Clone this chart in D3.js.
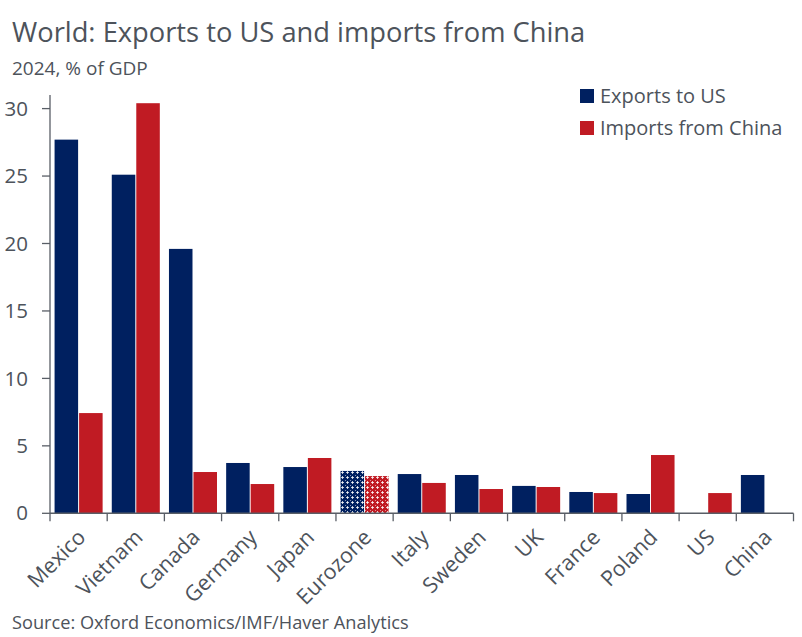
<!DOCTYPE html>
<html><head><meta charset="utf-8">
<script src="https://cdn.jsdelivr.net/npm/d3@7"></script>
<style>
body{margin:0;background:#fff;}
svg text{font-family:"Open Sans","Noto Sans",sans-serif;fill:#4d535b;}
</style></head>
<body><svg id="c" width="802" height="637"></svg>
<script>
const categories = ["Mexico","Vietnam","Canada","Germany","Japan","Eurozone","Italy","Sweden","UK","France","Poland","US","China"];
const exportsToUS = [27.7,25.1,19.6,3.73,3.43,3.14,2.91,2.84,2.03,1.58,1.43,null,2.84];
const importsFromChina = [7.43,30.4,3.06,2.17,4.10,2.76,2.25,1.80,1.95,1.50,4.32,1.50,null];
const seriesNames = ["Exports to US","Imports from China"];
const yTicks = [0,5,10,15,20,25,30];

const navy = "#002060", red = "#c01b23";
const svg = d3.select("#c");
const defs = svg.append("defs");
function pat(id, col){
  const p = defs.append("pattern").attr("id",id).attr("patternUnits","userSpaceOnUse").attr("width",5).attr("height",5);
  p.append("rect").attr("width",5).attr("height",5).attr("fill",col);
  p.append("rect").attr("x",1).attr("y",2).attr("width",3).attr("height",1).attr("fill","#fff").attr("opacity",0.75);
  p.append("rect").attr("x",2).attr("y",1).attr("width",1).attr("height",3).attr("fill","#fff").attr("opacity",0.75);
  p.append("rect").attr("x",0).attr("y",0).attr("width",1).attr("height",1).attr("fill","#fff").attr("opacity",0.5);
}
pat("pNavy", navy); pat("pRed", red);

const x0 = d3.scaleBand().domain(categories).range([50,793.5]).paddingInner(0.16).paddingOuter(0.08);
const x1 = d3.scaleBand().domain([0,1]).range([0,x0.bandwidth()]).paddingInner(0.04);
const y = d3.scaleLinear().domain([0,31]).range([513.3,513.3-31*13.49]);

const data = [];
categories.forEach((c,i)=>{
  [exportsToUS[i], importsFromChina[i]].forEach((v,s)=>{ if(v!=null) data.push({c,s,v}); });
});
svg.append("g").selectAll("rect").data(data).join("rect")
  .attr("x",d=>x0(d.c)+x1(d.s)).attr("width",x1.bandwidth())
  .attr("y",d=>y(d.v)).attr("height",d=>y(0)-y(d.v))
  .attr("fill",d=>d.c==="Eurozone" ? (d.s===0?"url(#pNavy)":"url(#pRed)") : (d.s===0?navy:red));

const axisCol = "#595e66";
const gy = svg.append("g").attr("transform","translate(50,0)");
gy.append("line").attr("x1",0).attr("x2",0).attr("y1",95).attr("y2",y(0)).attr("stroke",axisCol).attr("stroke-width",1.3);
gy.selectAll("line.t").data(yTicks).join("line").attr("class","t")
  .attr("x1",-8).attr("x2",0).attr("y1",d=>y(d)).attr("y2",d=>y(d)).attr("stroke",axisCol).attr("stroke-width",1.3);
gy.selectAll("text").data(yTicks).join("text")
  .attr("x",-22).attr("y",d=>y(d)).attr("dy","0.35em").attr("text-anchor","end")
  .style("font-size","20.5px").text(d=>d);

const gx = svg.append("g");
gx.append("line").attr("x1",50).attr("x2",793.5).attr("y1",y(0)).attr("y2",y(0)).attr("stroke",axisCol).attr("stroke-width",1.5);
const bounds = categories.map(c=>x0(c)-x0.step()*x0.paddingInner()/2).concat([793.5]);
gx.selectAll("line.t").data(bounds).join("line").attr("class","t")
  .attr("x1",d=>d).attr("x2",d=>d).attr("y1",y(0)).attr("y2",y(0)+8).attr("stroke",axisCol).attr("stroke-width",1.3);
gx.selectAll("text").data(categories).join("text")
  .attr("transform",c=>`translate(${x0(c)+x0.bandwidth()/2+3},${y(0)+20}) rotate(-45)`)
  .attr("text-anchor","end").attr("dy","0.35em").style("font-size","21.5px").text(c=>c);

const lg = svg.append("g").attr("transform","translate(580,84)");
seriesNames.forEach((n,i)=>{
  lg.append("rect").attr("x",0).attr("y",i*32+5).attr("width",14).attr("height",14).attr("fill",i===0?navy:red);
  lg.append("text").attr("x",20).attr("y",i*32+12).attr("dy","0.35em").style("font-size","20px").text(n);
});

svg.append("text").attr("x",12).attr("y",42).style("font-size","27.3px").text("World: Exports to US and imports from China");
svg.append("text").attr("x",12).attr("y",75).style("font-size","19px").text("2024, % of GDP");
svg.append("text").attr("x",12).attr("y",629).style("font-size","18.2px").text("Source: Oxford Economics/IMF/Haver Analytics");
</script></body></html>
